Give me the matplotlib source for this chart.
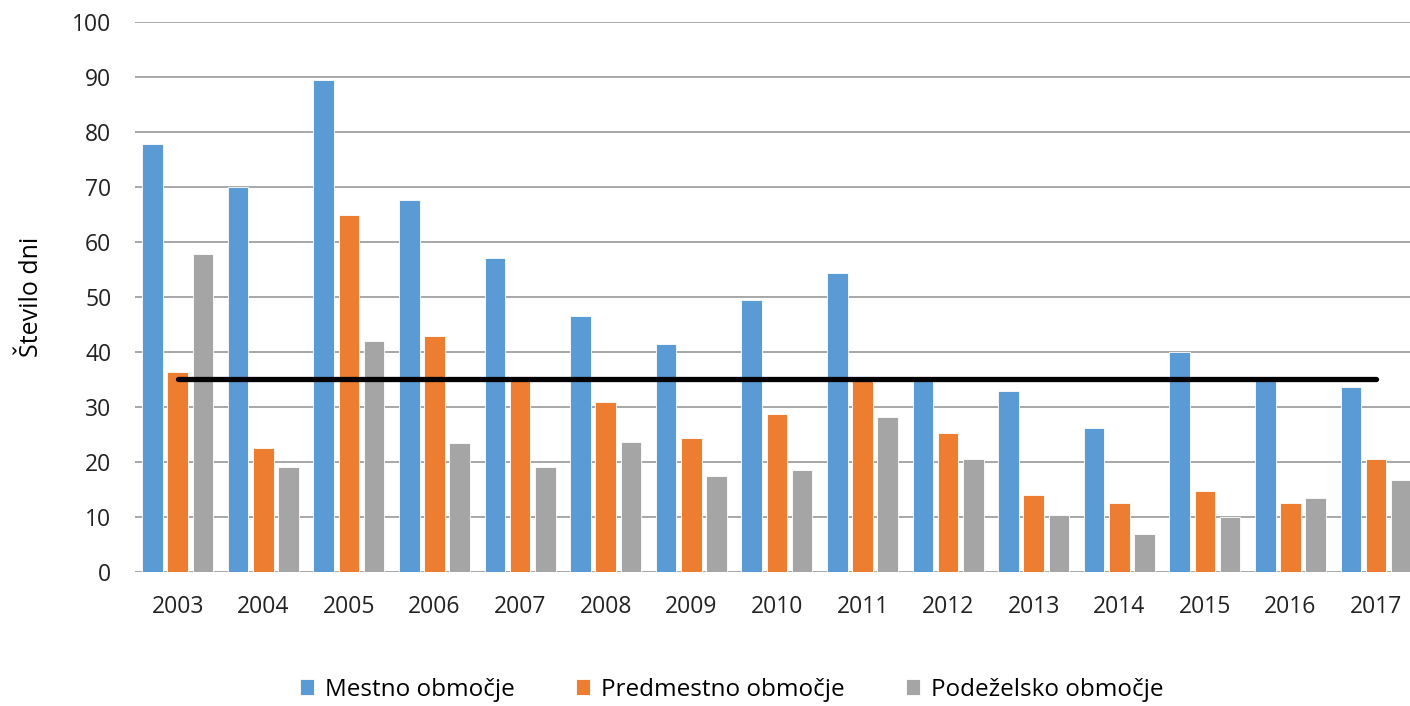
import matplotlib
matplotlib.use('Agg')
import matplotlib.pyplot as plt
import numpy as np

years = ['2003', '2004', '2005', '2006', '2007', '2008', '2009', '2010',
         '2011', '2012', '2013', '2014', '2015', '2016', '2017']
mestno = [77.8, 70.0, 89.4, 67.7, 57.0, 46.5, 41.4, 49.4,
          54.3, 35.0, 32.9, 26.2, 40.0, 35.0, 33.5]
predmestno = [36.3, 22.4, 64.9, 42.9, 35.0, 30.8, 24.3, 28.6,
              35.0, 25.2, 14.0, 12.4, 14.6, 12.4, 20.4]
podezelsko = [57.8, 19.0, 42.0, 23.4, 19.0, 23.5, 17.3, 18.4,
              28.1, 20.5, 10.2, 6.9, 9.9, 13.3, 16.6]
limit = [35] * len(years)

series = [('Mestno območje', mestno, '#5B9BD5'),
          ('Predmestno območje', predmestno, '#ED7D31'),
          ('Podeželsko območje', podezelsko, '#A5A5A5')]

plt.rcParams['font.family'] = ['Open Sans', 'DejaVu Sans']
plt.rcParams['font.size'] = 16.5

fig = plt.figure(figsize=(14.1, 7.06), dpi=100)
# plot area runs a little past the right edge, like the original
ax = fig.add_axes([0.0957, 0.1905, 0.9106, 0.7783])

x = np.arange(len(years))
step = 0.294
for i, (name, vals, col) in enumerate(series):
    ax.bar(x + (i - 1) * step, vals, width=0.24, color=col,
           edgecolor='white', linewidth=0.6, label=name, zorder=2)

ax.plot(x, limit, color='black', linewidth=3.8, solid_capstyle='round', zorder=3)

ax.set_xlim(-0.5, len(years) - 0.5)
ax.set_ylim(0, 100)
ax.set_yticks(range(0, 101, 10))
ax.set_xticks(x)
ax.set_xticklabels(years)
ax.yaxis.grid(True, color='#A0A0A0', linewidth=1.3, zorder=0)
ax.set_axisbelow(True)
for s in ax.spines.values():
    s.set_visible(False)
ax.tick_params(length=0, colors='#222222')
ax.tick_params(axis='x', pad=17)
ax.tick_params(axis='y', pad=17)
ax.set_ylabel('Število dni', fontsize=18, labelpad=20)

fig.legend(loc='center', bbox_to_anchor=(0.519, 0.023), ncol=3, frameon=False,
           handlelength=0.6, handleheight=0.65, handletextpad=0.45,
           columnspacing=2.5, fontsize=17.5)

fig.savefig('out.png', dpi=100)
